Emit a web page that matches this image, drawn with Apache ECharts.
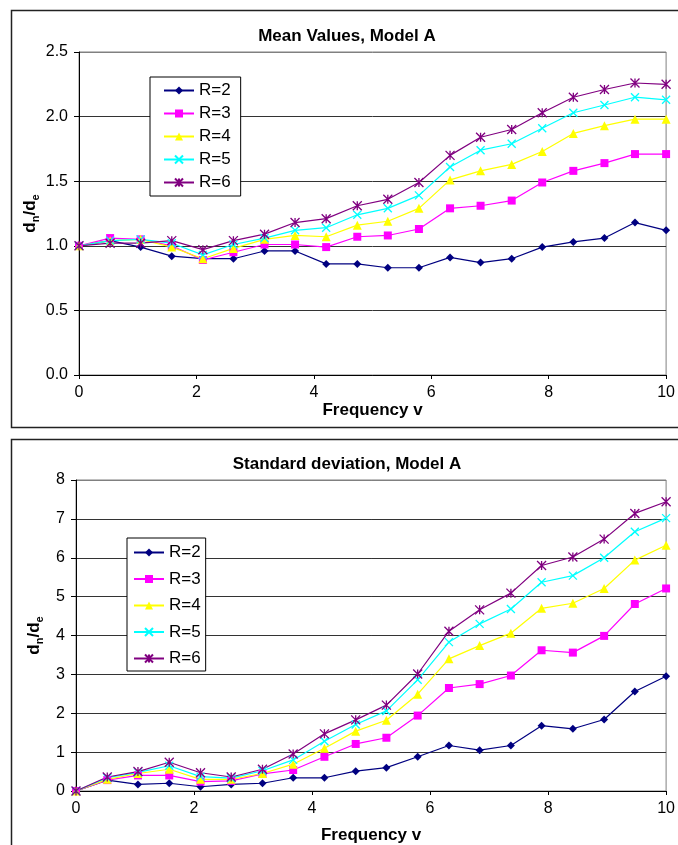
<!DOCTYPE html>
<html>
<head>
<meta charset="utf-8">
<title>Model A – mean values and standard deviation</title>
<script src="https://cdn.jsdelivr.net/npm/echarts@6/dist/echarts.min.js"></script>
<style>
  html, body { margin: 0; padding: 0; background: #fff; }
  #chart { width: 678px; height: 845px; }
</style>
</head>
<body>
<div id="chart"></div>
<script>
// Frequency samples shared by both panels
const freq = [0, 0.53, 1.05, 1.58, 2.11, 2.63, 3.16, 3.68, 4.21, 4.74, 5.26, 5.79, 6.32, 6.84, 7.37, 7.89, 8.42, 8.95, 9.47, 10];

const seriesNames = ['R=2', 'R=3', 'R=4', 'R=5', 'R=6'];

// Mean values of dn/de
const meanR2 = [1.00, 1.04, 0.99, 0.92, 0.90, 0.90, 0.96, 0.96, 0.86, 0.86, 0.83, 0.83, 0.91, 0.87, 0.90, 0.99, 1.03, 1.06, 1.18, 1.12];
const meanR3 = [1.00, 1.06, 1.05, 1.00, 0.89, 0.95, 1.01, 1.01, 0.99, 1.07, 1.08, 1.13, 1.29, 1.31, 1.35, 1.49, 1.58, 1.64, 1.71, 1.71];
const meanR4 = [1.00, 1.04, 1.05, 0.99, 0.90, 0.98, 1.05, 1.08, 1.07, 1.16, 1.19, 1.29, 1.51, 1.58, 1.63, 1.73, 1.87, 1.93, 1.98, 1.98];
const meanR5 = [1.00, 1.04, 1.05, 1.02, 0.93, 1.01, 1.06, 1.12, 1.14, 1.24, 1.29, 1.39, 1.61, 1.74, 1.79, 1.91, 2.03, 2.09, 2.15, 2.13];
const meanR6 = [1.00, 1.02, 1.02, 1.04, 0.97, 1.04, 1.09, 1.18, 1.21, 1.31, 1.36, 1.49, 1.70, 1.84, 1.90, 2.03, 2.15, 2.21, 2.26, 2.25];

// Standard deviation of dn/de
const sdR2 = [0, 0.28, 0.17, 0.20, 0.11, 0.17, 0.20, 0.34, 0.34, 0.51, 0.60, 0.88, 1.17, 1.05, 1.17, 1.68, 1.60, 1.84, 2.56, 2.95];
const sdR3 = [0, 0.28, 0.40, 0.40, 0.24, 0.26, 0.44, 0.54, 0.88, 1.21, 1.37, 1.94, 2.65, 2.75, 2.97, 3.62, 3.56, 3.99, 4.81, 5.21];
const sdR4 = [0, 0.30, 0.45, 0.56, 0.30, 0.30, 0.45, 0.69, 1.10, 1.54, 1.82, 2.49, 3.40, 3.74, 4.06, 4.70, 4.83, 5.21, 5.94, 6.32];
const sdR5 = [0, 0.34, 0.48, 0.65, 0.37, 0.33, 0.52, 0.80, 1.28, 1.71, 2.06, 2.86, 3.83, 4.30, 4.68, 5.37, 5.54, 6.00, 6.67, 7.02];
const sdR6 = [0, 0.36, 0.50, 0.74, 0.47, 0.36, 0.56, 0.95, 1.47, 1.83, 2.21, 3.01, 4.11, 4.66, 5.09, 5.80, 6.02, 6.48, 7.14, 7.44];

const meanSets = [meanR2, meanR3, meanR4, meanR5, meanR6];
const sdSets = [sdR2, sdR3, sdR4, sdR5, sdR6];

const FONT = 'Arial, "Liberation Sans", sans-serif';

// Marker look for each R
const styles = [
  { color: '#000080', symbol: 'diamond', size: 8 },
  { color: '#FF00FF', symbol: 'rect', size: 8 },
  { color: '#FFFF00', symbol: 'triangle', size: 9 },
  { color: '#00FFFF', symbol: 'path://M0,0L10,10M10,0L0,10', size: 8 },
  { color: '#800080', symbol: 'path://M0,0L10,10M10,0L0,10M5,0L5,10', size: 9 }
];

function pairs(ys) {
  return freq.map((x, i) => [x, ys[i]]);
}

function makeSeries(sets, gridIdx) {
  return sets.map((ys, k) => {
    const st = styles[k];
    const isStroke = st.symbol.indexOf('path://') === 0;
    return {
      name: seriesNames[k],
      type: 'line',
      xAxisIndex: gridIdx,
      yAxisIndex: gridIdx,
      data: pairs(ys),
      symbol: st.symbol,
      symbolSize: st.size,
      showAllSymbol: true,
      clip: false,
      lineStyle: { color: st.color, width: 1.2 },
      itemStyle: {
        color: st.color,
        borderColor: st.color,
        borderWidth: isStroke ? 1.3 : 0
      },
      emphasis: { disabled: true }
    };
  });
}

const yName = '{m|d}{s|n}{m|/d}{s|e}';
const yNameStyle = {
  fontFamily: FONT,
  rich: {
    m: { fontSize: 17, fontWeight: 'bold', fontFamily: FONT, color: '#000', lineHeight: 22 },
    s: { fontSize: 11, fontWeight: 'bold', fontFamily: FONT, color: '#000', lineHeight: 14, verticalAlign: 'bottom' }
  }
};

function xAxisCfg(gridIdx, nameGap) {
  return {
    gridIndex: gridIdx,
    type: 'value',
    min: 0, max: 10, interval: 2,
    name: 'Frequency v',
    nameLocation: 'middle',
    nameGap: nameGap,
    nameMoveOverlap: false,
    nameTextStyle: { fontFamily: FONT, fontSize: 17, fontWeight: 'bold', color: '#000' },
    axisLine: { show: true, lineStyle: { color: '#000', width: 1 } },
    axisTick: { show: true, inside: false, length: 4, lineStyle: { color: '#000' } },
    axisLabel: { fontFamily: FONT, fontSize: 16, color: '#000', margin: 10 },
    splitLine: { show: false }
  };
}

function yAxisCfg(gridIdx, max, interval, decimals, gridColors, nameGap) {
  return {
    gridIndex: gridIdx,
    type: 'value',
    min: 0, max: max, interval: interval,
    name: yName,
    nameLocation: 'middle',
    nameGap: nameGap,
    nameMoveOverlap: false,
    nameTextStyle: yNameStyle,
    axisLine: { show: true, lineStyle: { color: '#000', width: 1 } },
    axisTick: { show: true, inside: false, length: 5, lineStyle: { color: '#000' } },
    axisLabel: {
      fontFamily: FONT, fontSize: 16, color: '#000', margin: 11,
      formatter: v => v.toFixed(decimals)
    },
    splitLine: { show: true, lineStyle: { color: gridColors, width: 1 } }
  };
}

function legendCfg(left, top, padding, itemGap) {
  return {
    orient: 'vertical',
    left: left,
    top: top,
    padding: padding,
    itemGap: itemGap,
    itemWidth: 30,
    itemHeight: 10,
    backgroundColor: '#fff',
    borderColor: '#000',
    borderWidth: 1,
    borderRadius: 0,
    selectedMode: false,
    data: seriesNames,
    textStyle: { fontFamily: FONT, fontSize: 17, color: '#000', padding: [0, 0, 0, 0], lineHeight: 17 }
  };
}

const chart = echarts.init(document.getElementById('chart'), null, { renderer: 'canvas' });

chart.setOption({
  animation: false,
  backgroundColor: '#fff',
  textStyle: { fontFamily: FONT },
  title: [
    {
      text: 'Mean Values, Model A',
      left: 347, top: 28, padding: 0, textAlign: 'center',
      textStyle: { fontFamily: FONT, fontSize: 17, fontWeight: 'bold', color: '#000' }
    },
    {
      text: 'Standard deviation, Model A',
      left: 347, top: 456, padding: 0, textAlign: 'center',
      textStyle: { fontFamily: FONT, fontSize: 17, fontWeight: 'bold', color: '#000' }
    }
  ],
  graphic: [
    { type: 'rect', z: -1, silent: true, shape: { x: 11.5, y: 10.5, width: 720, height: 417 },
      style: { fill: 'none', stroke: '#222', lineWidth: 1.5 } },
    { type: 'rect', z: -1, silent: true, shape: { x: 11.5, y: 439.5, width: 720, height: 460 },
      style: { fill: 'none', stroke: '#222', lineWidth: 1.5 } }
  ],
  grid: [
    { left: 79, top: 52, right: 8, height: 323, show: true, borderColor: '#808080', borderWidth: 1, backgroundColor: 'transparent' },
    { left: 76, top: 480, right: 8, height: 312, show: true, borderColor: '#808080', borderWidth: 1, backgroundColor: 'transparent' }
  ],
  xAxis: [xAxisCfg(0, 27), xAxisCfg(1, 36)],
  yAxis: [
    yAxisCfg(0, 2.5, 0.5, 1, ['#333', '#333', '#333', '#333', '#333', '#808080'], 38),
    yAxisCfg(1, 8, 1, 0, ['#333', '#333', '#333', '#333', '#333', '#333', '#333', '#333', '#808080'], 31)
  ],
  legend: [
    legendCfg(150, 77, [5, 10, 5, 13], 6),
    legendCfg(127, 538, [6, 5, 4, 6], 9.5)
  ],
  series: makeSeries(meanSets, 0).concat(makeSeries(sdSets, 1))
});
</script>
</body>
</html>
